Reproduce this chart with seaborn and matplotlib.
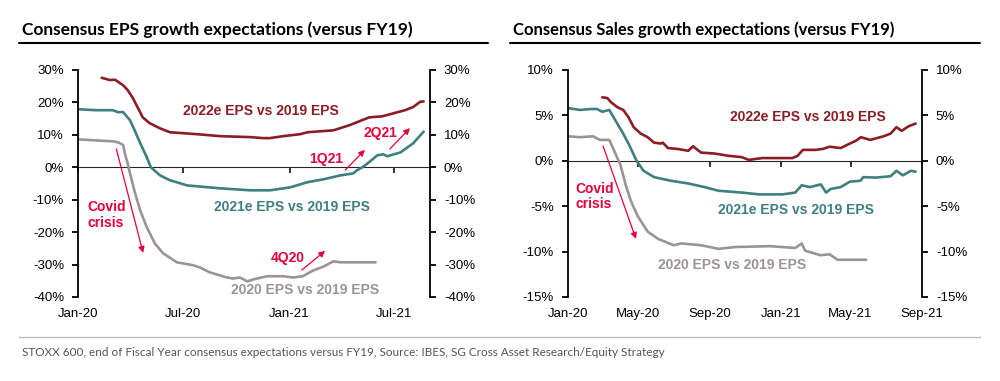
import matplotlib
matplotlib.use("Agg")
import matplotlib.pyplot as plt
import matplotlib.dates as mdates
from matplotlib.ticker import FuncFormatter, MultipleLocator, NullFormatter
import seaborn as sns
import pandas as pd

# ---------------- data ----------------
eps22_dates = ["2020-02-11", "2020-02-25", "2020-03-05", "2020-03-19", "2020-03-27", "2020-04-05",
               "2020-04-14", "2020-04-22", "2020-05-04", "2020-05-22", "2020-06-08", "2020-07-25",
               "2020-09-03", "2020-10-25", "2020-11-16", "2020-11-28", "2020-12-21", "2021-01-19",
               "2021-02-01", "2021-03-18", "2021-04-15", "2021-05-19", "2021-06-10", "2021-07-01",
               "2021-07-20", "2021-08-03", "2021-08-15", "2021-08-21"]
eps22_vals = [27.6, 26.9, 27.0, 25.3, 23.8, 21.3, 18.2, 15.4, 13.6, 12.0, 10.8, 10.2,
              9.6, 9.3, 9.0, 9.0, 9.6, 10.2, 10.8, 11.4, 13.0, 15.4, 15.7, 16.7,
              17.6, 18.6, 20.2, 20.3]

eps21_dates = ["2020-01-01", "2020-02-01", "2020-03-01", "2020-03-10", "2020-03-19", "2020-03-31",
               "2020-04-08", "2020-04-17", "2020-04-29", "2020-05-06", "2020-05-22", "2020-06-08",
               "2020-07-08", "2020-09-03", "2020-10-25", "2020-11-28", "2021-01-02", "2021-02-01",
               "2021-03-01", "2021-03-30", "2021-04-21", "2021-04-28", "2021-05-07", "2021-05-16",
               "2021-06-02", "2021-06-12", "2021-06-19", "2021-07-12", "2021-08-03", "2021-08-21"]
eps21_vals = [17.9, 17.6, 17.6, 17.0, 17.0, 14.5, 11.4, 7.7, 3.1, 0.0, -2.5, -4.0,
              -5.6, -6.5, -7.1, -7.1, -6.2, -4.6, -3.7, -2.5, -1.9, -0.9, 0.0, 1.2,
              3.7, 4.0, 3.4, 4.6, 7.4, 11.0]

eps20_dates = ["2020-01-01", "2020-03-01", "2020-03-10", "2020-03-19", "2020-03-22", "2020-03-27",
               "2020-03-31", "2020-04-08", "2020-04-17", "2020-04-29", "2020-05-13", "2020-05-27",
               "2020-06-20", "2020-07-18", "2020-07-30", "2020-08-16", "2020-09-15", "2020-09-25",
               "2020-10-07", "2020-10-20", "2020-10-30", "2020-11-23", "2020-12-21", "2021-01-07",
               "2021-01-24", "2021-02-11", "2021-03-01", "2021-03-18", "2021-03-30", "2021-05-30"]
eps20_vals = [8.6, 8.0, 7.7, 6.9, 4.3, 1.2, -1.9, -7.5, -13.0, -18.5, -23.5, -26.5,
              -29.3, -30.2, -30.9, -32.4, -34.0, -34.3, -34.0, -35.2, -34.6, -33.6, -33.6, -34.0,
              -33.6, -31.8, -30.6, -29.0, -29.3, -29.3]

sal22_dates = ["2020-02-29", "2020-03-09", "2020-03-14", "2020-03-26", "2020-04-05", "2020-04-14",
               "2020-04-23", "2020-05-05", "2020-05-17", "2020-05-28", "2020-06-09", "2020-06-12",
               "2020-06-21", "2020-07-08", "2020-07-26", "2020-08-03", "2020-08-17", "2020-09-09",
               "2020-10-03", "2020-10-26", "2020-11-07", "2020-11-30", "2021-01-21", "2021-01-30",
               "2021-02-08", "2021-03-02", "2021-03-14", "2021-03-26", "2021-04-14", "2021-04-30",
               "2021-05-10", "2021-05-19", "2021-06-04", "2021-06-27", "2021-07-09", "2021-07-19",
               "2021-07-28", "2021-08-09", "2021-08-21"]
sal22_vals = [7.0, 6.9, 6.5, 5.9, 5.6, 4.8, 3.7, 3.0, 2.6, 2.0, 1.9, 2.0,
              1.4, 1.3, 1.1, 1.6, 0.9, 0.8, 0.55, 0.4, 0.1, 0.3, 0.3, 0.55,
              1.2, 1.2, 1.3, 1.55, 1.4, 1.9, 2.2, 2.6, 2.3, 2.7, 3.0, 3.7,
              3.3, 3.8, 4.1]

sal21_dates = ["2020-01-01", "2020-01-22", "2020-02-08", "2020-02-20", "2020-02-29", "2020-03-12",
               "2020-03-23", "2020-04-04", "2020-04-14", "2020-04-28", "2020-05-10", "2020-05-28",
               "2020-06-26", "2020-07-26", "2020-08-23", "2020-09-16", "2020-10-26", "2020-11-25",
               "2021-01-04", "2021-01-26", "2021-02-06", "2021-02-20", "2021-03-11", "2021-03-20",
               "2021-03-28", "2021-04-14", "2021-04-30", "2021-05-18", "2021-05-23", "2021-06-14",
               "2021-07-09", "2021-07-19", "2021-07-30", "2021-08-13", "2021-08-21"]
sal21_vals = [5.8, 5.6, 5.7, 5.7, 5.4, 5.6, 4.4, 3.1, 1.9, 0.0, -1.1, -1.8,
              -2.2, -2.5, -2.9, -3.3, -3.5, -3.7, -3.7, -3.5, -2.7, -2.9, -2.6, -3.5,
              -3.1, -2.9, -2.3, -2.2, -1.8, -1.85, -1.7, -1.1, -1.6, -1.1, -1.2]

sal20_dates = ["2020-01-01", "2020-01-22", "2020-02-13", "2020-02-25", "2020-03-12", "2020-03-19",
               "2020-03-28", "2020-03-31", "2020-04-09", "2020-04-18", "2020-04-30", "2020-05-17",
               "2020-06-04", "2020-07-01", "2020-07-14", "2020-08-17", "2020-09-16", "2020-10-14",
               "2020-12-12", "2021-01-26", "2021-02-06", "2021-02-12", "2021-03-10", "2021-03-26",
               "2021-04-09", "2021-05-28"]
sal20_vals = [2.7, 2.6, 2.7, 2.3, 2.3, 1.3, 0.0, -0.4, -2.6, -4.4, -6.1, -7.8,
              -8.6, -9.3, -9.1, -9.3, -9.7, -9.5, -9.4, -9.6, -9.1, -9.9, -10.4, -10.3,
              -10.9, -10.9]

titles = ["Consensus EPS growth expectations (versus FY19)",
          "Consensus Sales growth expectations (versus FY19)"]
series_labels = ["2022e EPS vs 2019 EPS", "2021e EPS vs 2019 EPS", "2020 EPS vs 2019 EPS"]
footer = ("STOXX 600, end of Fiscal Year consensus expectations versus FY19, "
          "Source: IBES, SG Cross Asset Research/Equity Strategy")

# ---------------- style ----------------
sns.set_style("ticks")
plt.rcParams["font.family"] = ["Liberation Sans", "DejaVu Sans"]

C22 = "#8A1E24"
C21 = "#3F7F80"
C20 = "#9B9494"
RED = "#E5003A"
LW = 1.9


def frame(dates, vals):
    return pd.DataFrame({"date": pd.to_datetime(dates), "value": vals})


fig = plt.figure(figsize=(10, 3.81), dpi=100)
axL = fig.add_axes([0.078, 0.2205, 0.352, 0.5958])
axR = fig.add_axes([0.568, 0.2205, 0.354, 0.5958])

xmin, xmax = pd.Timestamp("2020-01-01"), pd.Timestamp("2021-09-01")

panels = [
    (axL, [(eps22_dates, eps22_vals, C22), (eps21_dates, eps21_vals, C21), (eps20_dates, eps20_vals, C20)],
     (-40, 30), 10, [1, 7]),
    (axR, [(sal22_dates, sal22_vals, C22), (sal21_dates, sal21_vals, C21), (sal20_dates, sal20_vals, C20)],
     (-15, 10), 5, [1, 5, 9]),
]

for ax, series, ylim, step, months in panels:
    for d, v, c in series:
        sns.lineplot(data=frame(d, v), x="date", y="value", ax=ax, color=c, lw=LW, legend=False)
    ax.set_xlim(xmin, xmax)
    ax.set_ylim(*ylim)
    ax.yaxis.set_major_locator(MultipleLocator(step))
    ax.yaxis.set_major_formatter(FuncFormatter(lambda v, p: f"{v:.0f}%".replace("\u2212", "-")))
    ax.xaxis.set_major_locator(mdates.MonthLocator(bymonth=months))
    ax.xaxis.set_major_formatter(mdates.DateFormatter("%b-%y"))
    ax.set_xlabel("")
    ax.set_ylabel("")
    for s in ["top", "bottom"]:
        ax.spines[s].set_visible(False)
    for s in ["left", "right"]:
        ax.spines[s].set_visible(True)
        ax.spines[s].set_linewidth(1.3)
        ax.spines[s].set_color("black")
    ax.tick_params(axis="y", which="both", left=True, right=True, labelleft=True, labelright=True,
                   length=4, width=1.3, pad=6, labelsize=9.5, colors="black")
    ax.tick_params(axis="x", length=0, pad=8, labelsize=9.5, colors="black")
    # zero line carrying the month ticks
    loc = (0 - ylim[0]) / (ylim[1] - ylim[0])
    sec = ax.secondary_xaxis(loc)
    sec.xaxis.set_major_locator(mdates.MonthLocator(bymonth=months))
    sec.xaxis.set_major_formatter(NullFormatter())
    sec.tick_params(axis="x", direction="in", length=4, width=1.3)
    sec.spines["bottom"].set_linewidth(1.3)
    sec.spines["bottom"].set_color("black")

# ---------------- annotations ----------------
lab_font = dict(fontsize=10, fontweight="bold", ha="center", va="center")
arrow = dict(arrowstyle="-|>", color=RED, lw=0.9, mutation_scale=9, shrinkA=0, shrinkB=0)

# left panel
axL.text(0.520, 0.819, series_labels[0], color=C22, transform=axL.transAxes, **lab_font)
axL.text(0.608, 0.396, series_labels[1], color=C21, transform=axL.transAxes, **lab_font)
axL.text(0.645, 0.031, series_labels[2], color=C20, transform=axL.transAxes, **lab_font)
axL.text(0.026, 0.361, "Covid\ncrisis", color=RED, transform=axL.transAxes, fontsize=10,
         fontweight="bold", ha="left", va="center", linespacing=1.1)
axL.annotate("", xy=(0.185, 0.194), xytext=(0.109, 0.652), xycoords="axes fraction", arrowprops=arrow)
axL.text(0.595, 0.172, "4Q20", color=RED, transform=axL.transAxes, **lab_font)
axL.annotate("", xy=(0.702, 0.203), xytext=(0.636, 0.119), xycoords="axes fraction", arrowprops=arrow)
axL.text(0.706, 0.608, "1Q21", color=RED, transform=axL.transAxes, **lab_font)
axL.annotate("", xy=(0.815, 0.648), xytext=(0.759, 0.559), xycoords="axes fraction", arrowprops=arrow)
axL.text(0.858, 0.722, "2Q21", color=RED, transform=axL.transAxes, **lab_font)
axL.annotate("", xy=(0.943, 0.744), xytext=(0.886, 0.652), xycoords="axes fraction", arrowprops=arrow)

# right panel
axR.text(0.678, 0.793, series_labels[0], color=C22, transform=axR.transAxes, **lab_font)
axR.text(0.644, 0.383, series_labels[1], color=C21, transform=axR.transAxes, **lab_font)
axR.text(0.463, 0.141, series_labels[2], color=C20, transform=axR.transAxes, **lab_font)
axR.text(0.020, 0.441, "Covid\ncrisis", color=RED, transform=axR.transAxes, fontsize=10,
         fontweight="bold", ha="left", va="center", linespacing=1.1)
axR.annotate("", xy=(0.192, 0.256), xytext=(0.099, 0.665), xycoords="axes fraction", arrowprops=arrow)

# ---------------- titles, rules, footer ----------------
title_font = ["Lato", "DejaVu Sans"]
fig.text(0.022, 0.921, titles[0], fontsize=12.5, fontweight="bold", family=title_font,
         ha="left", va="center", color="black")
fig.text(0.513, 0.921, titles[1], fontsize=12.0, fontweight="bold", family=title_font,
         ha="left", va="center", color="black")
fig.add_artist(plt.Line2D([0.019, 0.488], [0.887, 0.887], color="black", lw=1.5))
fig.add_artist(plt.Line2D([0.510, 0.980], [0.887, 0.887], color="black", lw=1.5))
fig.add_artist(plt.Line2D([0.019, 0.980], [0.1155, 0.1155], color="#BBBBBB", lw=1.0))
fig.text(0.022, 0.0735, footer, fontsize=8.45, fontweight="normal", family=title_font,
         ha="left", va="center", color="#555555")

fig.savefig("out.png", dpi=100, facecolor="white")
